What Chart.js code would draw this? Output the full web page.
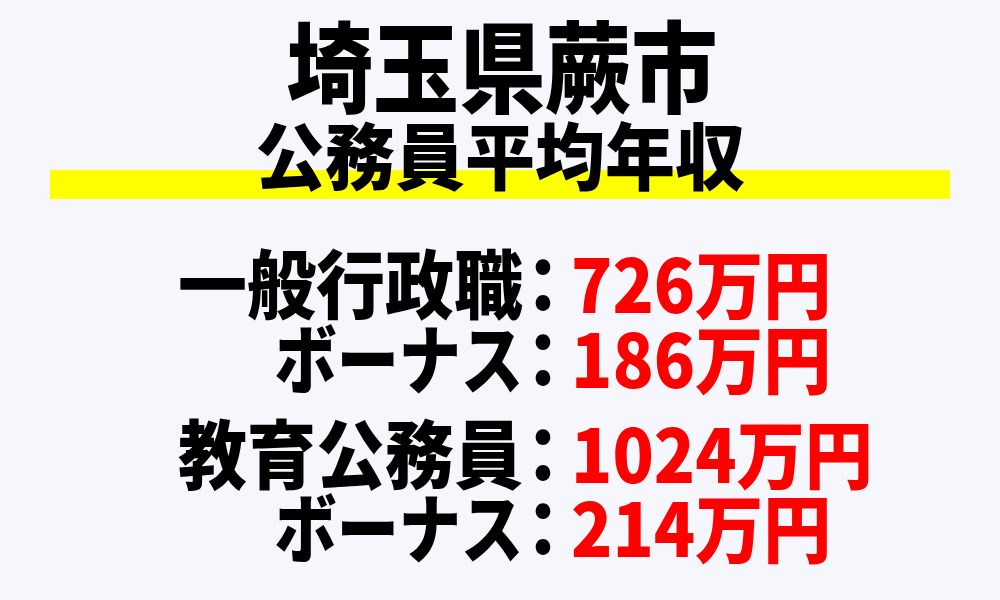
<!DOCTYPE html>
<html>
<head>
<meta charset="utf-8">
<script src="https://cdn.jsdelivr.net/npm/chart.js@4"></script>
<style>
  html, body { margin: 0; padding: 0; background: #f6f7fd; }
  #wrap { width: 1000px; height: 600px; }
</style>
</head>
<body>
<div id="wrap"><canvas id="myChart"></canvas></div>
<script>
const title = '埼玉県蕨市';
const subtitle = '公務員平均年収';
const labels = ['一般行政職', 'ボーナス', '教育公務員', 'ボーナス'];
const values = [726, 186, 1024, 214];
const unit = '万円';

const FONT = "'Noto Sans CJK JP', 'Noto Sans CJK SC', sans-serif";

// draw text squeezed/stretched around its anchor point
function drawText(ctx, txt, x, y, align, sx, sy) {
  ctx.save();
  ctx.translate(x, y);
  ctx.scale(sx, sy);
  ctx.textAlign = align;
  ctx.fillText(txt, 0, 0);
  ctx.restore();
}

const infoText = {
  id: 'infoText',
  beforeDraw(chart) {
    const ctx = chart.ctx;
    ctx.save();
    ctx.fillStyle = '#f6f7fd';
    ctx.fillRect(0, 0, chart.width, chart.height);

    // yellow marker under subtitle
    ctx.fillStyle = '#ffff00';
    ctx.fillRect(50, 170, 900, 29);

    ctx.fillStyle = '#000';
    ctx.textBaseline = 'middle';
    ctx.font = '900 88px ' + FONT;
    drawText(ctx, title, 502, 68, 'center', 0.98, 1.12);
    ctx.font = '900 70px ' + FONT;
    drawText(ctx, subtitle, 500, 156, 'center', 1, 1.04);

    const rowY = [285, 360, 455, 529];
    labels.forEach(function (lab, i) {
      const y = rowY[i];
      const kana = lab === 'ボーナス';
      ctx.fillStyle = '#000';
      ctx.font = '900 69px ' + FONT;
      drawText(ctx, lab, 523, y, 'right', kana ? 0.9 : 1, 1.08);
      drawText(ctx, '：', 543, y, 'center', 1, 1.08);
      ctx.fillStyle = '#ff0000';
      ctx.font = '900 68px ' + FONT;
      drawText(ctx, values[i] + unit, 571, y, 'left', 1, 1.08);
    });
    ctx.restore();
  }
};

const config = {
  type: 'bar',
  data: {
    labels: labels,
    datasets: [{ data: values, backgroundColor: 'rgba(0,0,0,0)', borderWidth: 0 }]
  },
  options: {
    responsive: true,
    maintainAspectRatio: false,
    animation: false,
    events: [],
    plugins: { legend: { display: false }, tooltip: { enabled: false } },
    scales: { x: { display: false }, y: { display: false } }
  },
  plugins: [infoText]
};

var myChart = new Chart(document.getElementById('myChart'), config);
</script>
</body>
</html>
